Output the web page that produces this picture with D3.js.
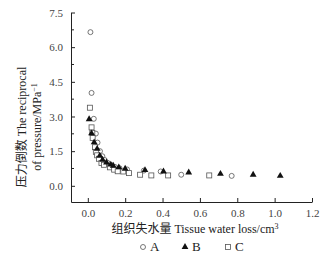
<!DOCTYPE html>
<html>
<head>
<meta charset="utf-8">
<script src="https://cdn.jsdelivr.net/npm/d3@7"></script>
<style>
  body { margin: 0; background: #fff; }
</style>
</head>
<body>
<div id="chart"></div>
<script>
// series A (circles), B (filled triangles), C (squares): [water loss, 1/pressure]
var seriesA = [
  [0.014, 6.65], [0.020, 4.02], [0.032, 2.90], [0.043, 2.26], [0.052, 1.87],
  [0.065, 1.50], [0.078, 1.28], [0.090, 1.12], [0.105, 1.00], [0.125, 0.90],
  [0.145, 0.82], [0.170, 0.76], [0.210, 0.71], [0.300, 0.66], [0.390, 0.62],
  [0.500, 0.48], [0.770, 0.43]
];
var seriesB = [
  [0.007, 2.88], [0.020, 2.27], [0.034, 1.88], [0.050, 1.60], [0.064, 1.30],
  [0.079, 1.13], [0.100, 1.01], [0.123, 0.92], [0.136, 0.87], [0.166, 0.80],
  [0.200, 0.74], [0.306, 0.68], [0.405, 0.62], [0.540, 0.58], [0.710, 0.52],
  [0.885, 0.48], [1.030, 0.43]
];
var seriesC = [
  [0.011, 3.38], [0.020, 2.53], [0.024, 2.29], [0.026, 2.07], [0.038, 1.67],
  [0.043, 1.47], [0.050, 1.32], [0.060, 1.17], [0.073, 0.99], [0.087, 0.91],
  [0.118, 0.80], [0.141, 0.70], [0.160, 0.63], [0.190, 0.62], [0.220, 0.55],
  [0.280, 0.48], [0.340, 0.45], [0.430, 0.45], [0.650, 0.45]
];
var xTicks = [0, 0.2, 0.4, 0.6, 0.8, 1.0, 1.2];
var yTicks = [0, 1.5, 3.0, 4.5, 6.0, 7.5];
var yMinor = [0.75, 2.25, 3.75, 5.25, 6.75];
var legendNames = ["A", "B", "C"];

var FONT = "'Liberation Serif', 'Times New Roman', 'DejaVu Serif', 'Noto Sans CJK SC', serif";

var width = 330, height = 260;
var svg = d3.select("#chart").append("svg")
    .attr("width", width)
    .attr("height", height)
    .attr("font-family", FONT);

var x = d3.scaleLinear().domain([-0.09, 1.2]).range([71, 312]);
var y = d3.scaleLinear().domain([-0.7, 7.5]).range([202, 12.5]);

// axes (ticks point inward)
var xAxis = d3.axisBottom(x).tickValues(xTicks).tickFormat(d3.format(".1f"))
    .tickSizeInner(-4).tickSizeOuter(0).tickPadding(7);
var yAxis = d3.axisLeft(y).tickValues(yTicks).tickFormat(d3.format(".1f"))
    .tickSizeInner(-4).tickSizeOuter(0).tickPadding(8);

var gx = svg.append("g").attr("transform", "translate(0,202)").call(xAxis);
var gy = svg.append("g").attr("transform", "translate(71,0)").call(yAxis);
gy.selectAll(".minor").data(yMinor).enter().append("line")
    .attr("class", "minor")
    .attr("x1", 0).attr("x2", 3)
    .attr("y1", d => y(d)).attr("y2", d => y(d))
    .attr("stroke", "#222");

[gx, gy].forEach(function (g) {
  g.attr("font-family", FONT);
  g.select(".domain").attr("stroke", "#222");
  g.selectAll(".tick line").attr("stroke", "#222");
  g.selectAll(".tick text").attr("font-size", 11).attr("fill", "#444");
});

// points
var symTri = d3.symbol().type(d3.symbolTriangle).size(20);
svg.append("g").selectAll("circle").data(seriesA).enter().append("circle")
    .attr("cx", d => x(d[0])).attr("cy", d => y(d[1])).attr("r", 2.5)
    .attr("fill", "white").attr("stroke", "#555").attr("stroke-width", 0.8);
svg.append("g").selectAll("rect").data(seriesC).enter().append("rect")
    .attr("x", d => x(d[0]) - 2.5).attr("y", d => y(d[1]) - 2.5)
    .attr("width", 5).attr("height", 5)
    .attr("fill", "white").attr("stroke", "#555").attr("stroke-width", 0.8);
svg.append("g").selectAll("path").data(seriesB).enter().append("path")
    .attr("d", symTri)
    .attr("transform", d => "translate(" + x(d[0]) + "," + y(d[1]) + ")")
    .attr("fill", "#111");

// axis titles
var yl = svg.append("text")
    .attr("transform", "translate(26,127) rotate(-90)")
    .attr("text-anchor", "middle").attr("font-size", 12).attr("fill", "#222");
yl.append("tspan").attr("x", 0).attr("dy", 0).text("压力倒数 The reciprocal");
yl.append("tspan").attr("x", 0).attr("dy", 15).text("of pressure/MPa")
  .append("tspan").attr("dy", -4).attr("font-size", 8).text("−1");

var xl = svg.append("text")
    .attr("x", 195).attr("y", 233)
    .attr("text-anchor", "middle").attr("font-size", 12).attr("fill", "#222")
    .text("组织失水量 Tissue water loss/cm");
xl.append("tspan").attr("dy", -4).attr("font-size", 8).text("3");

// legend
var legX = [143, 185, 228];
var leg = svg.append("g").selectAll("g").data(legendNames).enter().append("g")
    .attr("transform", (d, i) => "translate(" + legX[i] + ",247)");
leg.each(function (d, i) {
  var g = d3.select(this);
  if (i == 0) g.append("circle").attr("r", 2.5).attr("fill", "white").attr("stroke", "#555").attr("stroke-width", 0.8);
  if (i == 1) g.append("path").attr("d", symTri).attr("fill", "#111");
  if (i == 2) g.append("rect").attr("x", -2.5).attr("y", -2.5).attr("width", 5).attr("height", 5)
      .attr("fill", "white").attr("stroke", "#555").attr("stroke-width", 0.8);
});
leg.append("text").attr("x", 7).attr("y", 4).attr("font-size", 13).attr("fill", "#222")
    .text(d => d);
</script>
</body>
</html>
